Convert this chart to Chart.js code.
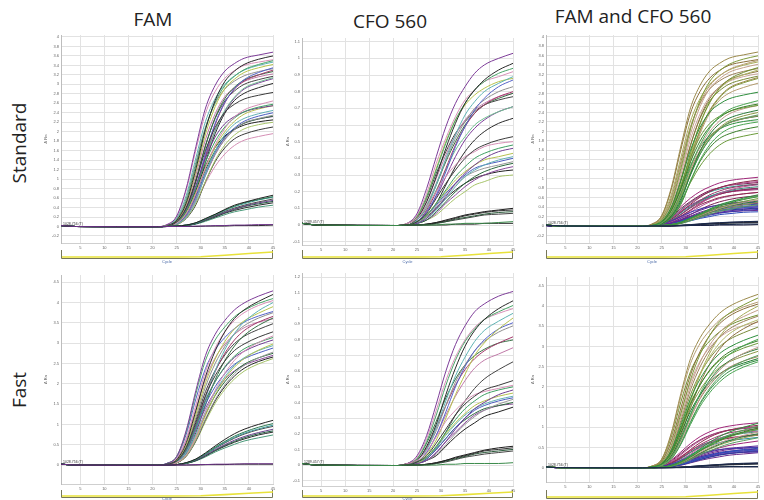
<!DOCTYPE html>
<html>
<head>
<meta charset="utf-8">
<script src="https://cdn.jsdelivr.net/npm/chart.js@4.4.1/dist/chart.umd.min.js"></script>
<style>
  html, body { margin: 0; padding: 0; background: #fff; }
  body { width: 764px; height: 500px; position: relative; overflow: hidden; font-family: "Open Sans", "Liberation Sans", sans-serif; color: #222; }
  .title { position: absolute; font-size: 19px; line-height: 19px; white-space: nowrap; transform: translateX(-50%); }
  .row { position: absolute; font-size: 19px; line-height: 19px; white-space: nowrap; transform: translate(-50%, -50%) rotate(-90deg); }
  canvas { position: absolute; }
</style>
</head>
<body>
<div class="title" style="left:153px; top:10px;">FAM</div>
<div class="title" style="left:390px; top:12px;">CFO 560</div>
<div class="title" style="left:633px; top:7px;">FAM and CFO 560</div>
<div class="row" style="left:19px; top:143px;">Standard</div>
<div class="row" style="left:19px; top:390px;">Fast</div>

<script>
// Cycles at which each amplification curve is sampled
const CYCLES = [1, 4, 21, 23, 25, 27, 29, 31, 33, 35, 37, 39, 42, 45];
// Baseline values at cycles 1, 4 and 21 (before amplification starts)
const FAM_BASE = [0.02, 0.0, -0.005];
const CFO_BASE = [0.01, 0.0, -0.003];
// Remaining values: cycles 23 .. 45

// ---- FAM, standard protocol ----
const FAM_STD_HIGH = [
  [0.04, 0.22, 0.81, 1.69, 2.50, 2.98, 3.28, 3.44, 3.55, 3.62, 3.68],
  [0.02, 0.13, 0.50, 1.22, 2.05, 2.66, 3.06, 3.28, 3.42, 3.53, 3.60],
  [0.02, 0.14, 0.55, 1.30, 2.08, 2.62, 2.97, 3.17, 3.31, 3.42, 3.50],
  [0.04, 0.21, 0.77, 1.62, 2.39, 2.85, 3.13, 3.29, 3.40, 3.47, 3.52],
  [0.03, 0.18, 0.66, 1.45, 2.22, 2.70, 3.00, 3.18, 3.30, 3.40, 3.47],
  [0.02, 0.12, 0.48, 1.16, 1.95, 2.53, 2.91, 3.11, 3.25, 3.35, 3.42],
  [0.01, 0.07, 0.30, 0.82, 1.55, 2.18, 2.62, 2.91, 3.10, 3.25, 3.35],
  [0.03, 0.16, 0.60, 1.36, 2.10, 2.60, 2.90, 3.07, 3.18, 3.27, 3.33],
  [0.01, 0.07, 0.26, 0.73, 1.49, 2.15, 2.61, 2.90, 3.07, 3.20, 3.30],
  [0.01, 0.09, 0.37, 0.95, 1.70, 2.30, 2.70, 2.94, 3.09, 3.20, 3.27],
  [0.02, 0.11, 0.45, 1.09, 1.84, 2.38, 2.74, 2.93, 3.06, 3.16, 3.22],
  [0.02, 0.10, 0.40, 1.00, 1.72, 2.28, 2.65, 2.86, 3.00, 3.10, 3.17],
  [0.01, 0.06, 0.27, 0.75, 1.43, 2.02, 2.45, 2.73, 2.92, 3.05, 3.14],
  [0.01, 0.08, 0.31, 0.81, 1.47, 2.03, 2.43, 2.71, 2.90, 3.03, 3.12],
  [0.01, 0.06, 0.24, 0.66, 1.36, 1.96, 2.39, 2.66, 2.81, 2.93, 3.02]
];
const FAM_STD_MID = [
  [0.01, 0.10, 0.40, 0.96, 1.61, 2.09, 2.41, 2.58, 2.69, 2.77, 2.83],
  [0.01, 0.07, 0.27, 0.69, 1.25, 1.72, 2.07, 2.31, 2.46, 2.57, 2.65],
  [0.01, 0.08, 0.33, 0.80, 1.36, 1.80, 2.10, 2.29, 2.42, 2.52, 2.58],
  [0.01, 0.09, 0.36, 0.87, 1.45, 1.89, 2.17, 2.32, 2.42, 2.50, 2.55],
  [0.01, 0.07, 0.29, 0.72, 1.24, 1.68, 2.00, 2.22, 2.37, 2.48, 2.55],
  [0.01, 0.05, 0.20, 0.54, 1.10, 1.59, 1.94, 2.16, 2.28, 2.38, 2.45],
  [0.01, 0.06, 0.25, 0.64, 1.14, 1.57, 1.88, 2.08, 2.22, 2.33, 2.40],
  [0.01, 0.06, 0.24, 0.61, 1.10, 1.53, 1.83, 2.04, 2.19, 2.28, 2.35],
  [0.01, 0.07, 0.28, 0.70, 1.20, 1.60, 1.88, 2.06, 2.18, 2.27, 2.33],
  [0.01, 0.05, 0.22, 0.58, 1.08, 1.52, 1.84, 2.05, 2.18, 2.27, 2.32],
  [0.01, 0.08, 0.32, 0.77, 1.28, 1.67, 1.91, 2.05, 2.14, 2.21, 2.25],
  [0.01, 0.04, 0.18, 0.49, 0.96, 1.40, 1.72, 1.93, 2.06, 2.15, 2.20],
  [0.01, 0.04, 0.17, 0.46, 0.95, 1.37, 1.66, 1.85, 1.95, 2.04, 2.10],
  [0.01, 0.05, 0.20, 0.51, 0.92, 1.27, 1.53, 1.71, 1.82, 1.90, 1.96]
];
const FAM_STD_LOW = [
  [0.00, 0.01, 0.03, 0.08, 0.17, 0.26, 0.36, 0.45, 0.51, 0.59, 0.66],
  [0.00, 0.01, 0.03, 0.08, 0.16, 0.25, 0.35, 0.43, 0.50, 0.57, 0.63],
  [0.00, 0.01, 0.03, 0.07, 0.16, 0.25, 0.34, 0.42, 0.48, 0.56, 0.62],
  [0.00, 0.01, 0.03, 0.07, 0.15, 0.23, 0.32, 0.39, 0.45, 0.52, 0.58],
  [0.00, 0.01, 0.03, 0.07, 0.14, 0.22, 0.30, 0.37, 0.43, 0.50, 0.55],
  [0.00, 0.01, 0.02, 0.06, 0.13, 0.21, 0.29, 0.36, 0.42, 0.48, 0.53],
  [0.00, 0.01, 0.02, 0.06, 0.13, 0.20, 0.28, 0.34, 0.39, 0.45, 0.50],
  [0.00, 0.00, 0.02, 0.05, 0.11, 0.18, 0.25, 0.31, 0.35, 0.41, 0.45]
];
const FAM_STD_FLAT = [
  [0.00, 0.00, 0.00, 0.01, 0.01, 0.02, 0.02, 0.03, 0.03, 0.04, 0.04],
  [0.00, 0.00, 0.00, 0.00, 0.01, 0.01, 0.01, 0.02, 0.02, 0.02, 0.03]
];

// ---- CFO 560, standard protocol ----
const CFO_STD_HIGH = [
  [0.01, 0.07, 0.22, 0.41, 0.59, 0.73, 0.83, 0.91, 0.96, 1.00, 1.03],
  [0.00, 0.04, 0.14, 0.29, 0.46, 0.61, 0.73, 0.81, 0.87, 0.93, 0.97],
  [0.01, 0.05, 0.17, 0.33, 0.49, 0.63, 0.73, 0.81, 0.86, 0.91, 0.94],
  [0.01, 0.06, 0.19, 0.37, 0.52, 0.65, 0.75, 0.81, 0.86, 0.89, 0.92],
  [0.00, 0.03, 0.11, 0.24, 0.40, 0.54, 0.66, 0.74, 0.80, 0.85, 0.89],
  [0.01, 0.05, 0.17, 0.34, 0.50, 0.63, 0.72, 0.78, 0.82, 0.86, 0.88],
  [0.00, 0.02, 0.08, 0.18, 0.32, 0.47, 0.59, 0.69, 0.76, 0.83, 0.87],
  [0.00, 0.03, 0.12, 0.25, 0.39, 0.52, 0.62, 0.70, 0.75, 0.80, 0.83],
  [0.00, 0.02, 0.09, 0.20, 0.34, 0.48, 0.59, 0.67, 0.72, 0.77, 0.80],
  [0.00, 0.03, 0.11, 0.24, 0.38, 0.50, 0.60, 0.67, 0.72, 0.76, 0.79],
  [0.01, 0.04, 0.14, 0.28, 0.42, 0.54, 0.63, 0.69, 0.73, 0.77, 0.79],
  [0.01, 0.05, 0.16, 0.31, 0.44, 0.55, 0.62, 0.68, 0.72, 0.75, 0.77],
  [0.00, 0.03, 0.10, 0.21, 0.33, 0.45, 0.53, 0.60, 0.64, 0.68, 0.71],
  [0.00, 0.02, 0.08, 0.17, 0.29, 0.41, 0.51, 0.58, 0.63, 0.68, 0.71],
  [0.00, 0.02, 0.06, 0.13, 0.24, 0.35, 0.44, 0.51, 0.56, 0.61, 0.64]
];
const CFO_STD_MID = [
  [0.00, 0.02, 0.07, 0.16, 0.25, 0.33, 0.40, 0.45, 0.48, 0.51, 0.53],
  [0.01, 0.04, 0.11, 0.20, 0.29, 0.36, 0.41, 0.44, 0.47, 0.49, 0.50],
  [0.00, 0.02, 0.06, 0.13, 0.21, 0.29, 0.35, 0.40, 0.43, 0.46, 0.48],
  [0.00, 0.01, 0.04, 0.10, 0.17, 0.25, 0.31, 0.36, 0.40, 0.44, 0.46],
  [0.00, 0.02, 0.06, 0.13, 0.20, 0.27, 0.32, 0.36, 0.39, 0.41, 0.43],
  [0.00, 0.01, 0.04, 0.09, 0.16, 0.23, 0.29, 0.33, 0.36, 0.39, 0.41],
  [0.00, 0.02, 0.06, 0.12, 0.19, 0.25, 0.30, 0.34, 0.36, 0.38, 0.40],
  [0.00, 0.01, 0.05, 0.11, 0.18, 0.24, 0.29, 0.32, 0.34, 0.36, 0.38],
  [0.00, 0.01, 0.03, 0.08, 0.14, 0.20, 0.25, 0.29, 0.32, 0.35, 0.37],
  [0.00, 0.01, 0.03, 0.07, 0.13, 0.18, 0.23, 0.27, 0.30, 0.33, 0.35],
  [0.00, 0.01, 0.05, 0.10, 0.16, 0.21, 0.25, 0.28, 0.30, 0.32, 0.33],
  [0.00, 0.01, 0.03, 0.06, 0.11, 0.16, 0.20, 0.24, 0.26, 0.29, 0.30]
];
const CFO_STD_LOW = [
  [0.00, 0.00, 0.005, 0.015, 0.03, 0.045, 0.06, 0.07, 0.08, 0.09, 0.10],
  [0.00, 0.00, 0.005, 0.015, 0.025, 0.04, 0.055, 0.065, 0.075, 0.085, 0.09],
  [0.00, 0.00, 0.005, 0.01, 0.02, 0.035, 0.045, 0.055, 0.065, 0.075, 0.08],
  [0.00, 0.00, 0.00, 0.01, 0.02, 0.03, 0.04, 0.05, 0.06, 0.065, 0.07]
];
const CFO_STD_FLAT = [
  [0.00, 0.00, 0.00, 0.00, 0.005, 0.005, 0.01, 0.01, 0.01, 0.015, 0.02],
  [0.00, 0.00, 0.00, 0.00, 0.00, 0.005, 0.005, 0.005, 0.01, 0.01, 0.01]
];

// ---- FAM, fast protocol ----
const FAM_FAST_HIGH = [
  [0.04, 0.21, 0.86, 1.84, 2.70, 3.22, 3.56, 3.82, 3.99, 4.16, 4.29],
  [0.02, 0.13, 0.55, 1.34, 2.18, 2.81, 3.28, 3.61, 3.82, 4.03, 4.20],
  [0.04, 0.21, 0.82, 1.76, 2.58, 3.08, 3.40, 3.65, 3.81, 3.98, 4.10],
  [0.03, 0.16, 0.66, 1.48, 2.30, 2.88, 3.28, 3.56, 3.75, 3.93, 4.05],
  [0.01, 0.08, 0.32, 0.88, 1.64, 2.32, 2.84, 3.24, 3.52, 3.80, 4.00],
  [0.02, 0.12, 0.51, 1.25, 2.03, 2.61, 3.04, 3.35, 3.55, 3.74, 3.90],
  [0.04, 0.19, 0.76, 1.63, 2.38, 2.84, 3.14, 3.36, 3.52, 3.67, 3.78],
  [0.02, 0.11, 0.47, 1.17, 1.93, 2.50, 2.92, 3.23, 3.43, 3.62, 3.75],
  [0.01, 0.09, 0.37, 0.97, 1.70, 2.30, 2.75, 3.08, 3.31, 3.52, 3.66],
  [0.01, 0.07, 0.29, 0.80, 1.48, 2.10, 2.57, 2.93, 3.19, 3.44, 3.62],
  [0.03, 0.15, 0.62, 1.38, 2.12, 2.64, 2.98, 3.22, 3.38, 3.52, 3.60],
  [0.02, 0.10, 0.45, 1.11, 1.81, 2.33, 2.71, 2.99, 3.17, 3.34, 3.48]
];
const FAM_FAST_MID = [
  [0.02, 0.10, 0.43, 1.05, 1.71, 2.20, 2.56, 2.82, 2.98, 3.15, 3.28],
  [0.01, 0.06, 0.25, 0.70, 1.30, 1.84, 2.26, 2.58, 2.80, 3.02, 3.18],
  [0.02, 0.09, 0.38, 0.95, 1.57, 2.05, 2.42, 2.68, 2.86, 3.02, 3.14],
  [0.02, 0.09, 0.40, 0.99, 1.60, 2.06, 2.40, 2.65, 2.80, 2.96, 3.08],
  [0.01, 0.06, 0.24, 0.66, 1.22, 1.73, 2.12, 2.41, 2.62, 2.83, 2.98],
  [0.01, 0.07, 0.29, 0.75, 1.32, 1.80, 2.17, 2.45, 2.64, 2.82, 2.94],
  [0.01, 0.09, 0.37, 0.92, 1.50, 1.93, 2.25, 2.48, 2.62, 2.76, 2.88],
  [0.01, 0.06, 0.22, 0.61, 1.14, 1.61, 1.97, 2.25, 2.45, 2.64, 2.78],
  [0.01, 0.06, 0.27, 0.70, 1.25, 1.71, 2.05, 2.30, 2.48, 2.64, 2.75],
  [0.01, 0.08, 0.35, 0.86, 1.40, 1.81, 2.11, 2.32, 2.46, 2.59, 2.70],
  [0.01, 0.05, 0.22, 0.60, 1.12, 1.58, 1.93, 2.19, 2.38, 2.55, 2.66],
  [0.01, 0.05, 0.21, 0.58, 1.07, 1.52, 1.86, 2.12, 2.31, 2.49, 2.62]
];
const FAM_FAST_LOW = [
  [0.00, 0.01, 0.06, 0.15, 0.30, 0.47, 0.63, 0.77, 0.88, 1.00, 1.10],
  [0.00, 0.01, 0.05, 0.14, 0.28, 0.44, 0.58, 0.71, 0.81, 0.93, 1.02],
  [0.00, 0.01, 0.05, 0.14, 0.27, 0.42, 0.56, 0.68, 0.78, 0.89, 0.98],
  [0.00, 0.01, 0.05, 0.13, 0.26, 0.41, 0.54, 0.66, 0.76, 0.87, 0.95],
  [0.00, 0.01, 0.05, 0.12, 0.24, 0.38, 0.50, 0.61, 0.70, 0.80, 0.88],
  [0.00, 0.01, 0.04, 0.11, 0.23, 0.36, 0.48, 0.58, 0.67, 0.77, 0.84],
  [0.00, 0.01, 0.04, 0.11, 0.22, 0.35, 0.46, 0.56, 0.64, 0.74, 0.81],
  [0.00, 0.01, 0.04, 0.10, 0.20, 0.32, 0.42, 0.51, 0.59, 0.67, 0.74]
];
const FAM_FAST_FLAT = [
  [0.00, 0.00, 0.00, 0.01, 0.01, 0.02, 0.02, 0.02, 0.03, 0.03, 0.03],
  [0.00, 0.00, 0.00, 0.00, 0.01, 0.01, 0.01, 0.02, 0.02, 0.02, 0.02]
];

// ---- CFO 560, fast protocol ----
const CFO_FAST_HIGH = [
  [0.01, 0.06, 0.19, 0.39, 0.60, 0.77, 0.89, 0.98, 1.03, 1.08, 1.11],
  [0.01, 0.03, 0.12, 0.26, 0.45, 0.62, 0.76, 0.86, 0.93, 1.00, 1.05],
  [0.01, 0.04, 0.15, 0.32, 0.51, 0.67, 0.79, 0.87, 0.93, 0.98, 1.02],
  [0.01, 0.05, 0.17, 0.35, 0.54, 0.69, 0.80, 0.88, 0.93, 0.97, 1.00],
  [0.00, 0.03, 0.10, 0.24, 0.41, 0.57, 0.69, 0.79, 0.86, 0.92, 0.97],
  [0.00, 0.02, 0.07, 0.16, 0.30, 0.45, 0.58, 0.70, 0.78, 0.87, 0.94],
  [0.00, 0.02, 0.08, 0.19, 0.34, 0.50, 0.63, 0.73, 0.80, 0.87, 0.91],
  [0.00, 0.03, 0.10, 0.22, 0.38, 0.53, 0.64, 0.73, 0.79, 0.85, 0.89],
  [0.01, 0.03, 0.11, 0.24, 0.38, 0.51, 0.61, 0.68, 0.73, 0.78, 0.82],
  [0.01, 0.04, 0.14, 0.28, 0.43, 0.55, 0.64, 0.70, 0.74, 0.78, 0.80],
  [0.00, 0.02, 0.08, 0.19, 0.32, 0.44, 0.54, 0.62, 0.67, 0.71, 0.75],
  [0.00, 0.01, 0.05, 0.11, 0.21, 0.32, 0.41, 0.49, 0.55, 0.61, 0.66]
];
const CFO_FAST_MID = [
  [0.00, 0.02, 0.06, 0.14, 0.23, 0.32, 0.39, 0.44, 0.48, 0.51, 0.54],
  [0.01, 0.03, 0.09, 0.18, 0.28, 0.35, 0.41, 0.45, 0.47, 0.49, 0.51],
  [0.00, 0.02, 0.05, 0.12, 0.21, 0.29, 0.36, 0.41, 0.45, 0.48, 0.50],
  [0.00, 0.01, 0.03, 0.08, 0.15, 0.23, 0.30, 0.36, 0.40, 0.45, 0.48],
  [0.00, 0.01, 0.05, 0.12, 0.20, 0.27, 0.33, 0.38, 0.41, 0.44, 0.46],
  [0.00, 0.01, 0.05, 0.11, 0.19, 0.26, 0.32, 0.36, 0.39, 0.42, 0.44],
  [0.00, 0.01, 0.04, 0.10, 0.17, 0.24, 0.30, 0.35, 0.38, 0.41, 0.43],
  [0.00, 0.01, 0.03, 0.07, 0.13, 0.20, 0.26, 0.31, 0.35, 0.39, 0.42],
  [0.00, 0.01, 0.04, 0.10, 0.17, 0.24, 0.29, 0.33, 0.36, 0.38, 0.40],
  [0.00, 0.01, 0.03, 0.08, 0.15, 0.21, 0.27, 0.32, 0.35, 0.38, 0.39],
  [0.00, 0.01, 0.03, 0.06, 0.12, 0.18, 0.23, 0.27, 0.31, 0.34, 0.37]
];
const CFO_FAST_LOW = [
  [0.00, 0.00, 0.005, 0.015, 0.03, 0.05, 0.065, 0.08, 0.095, 0.11, 0.12],
  [0.00, 0.00, 0.005, 0.015, 0.03, 0.045, 0.06, 0.075, 0.09, 0.10, 0.11],
  [0.00, 0.00, 0.005, 0.01, 0.025, 0.04, 0.055, 0.07, 0.08, 0.09, 0.10],
  [0.00, 0.00, 0.00, 0.01, 0.02, 0.035, 0.05, 0.06, 0.07, 0.08, 0.09]
];
const CFO_FAST_FLAT = [
  [0.00, 0.00, 0.00, 0.00, 0.005, 0.005, 0.01, 0.01, 0.01, 0.01, 0.015]
];

// Navigator strip under each plot: relative level per cycle
const NAV_CYCLES = [1, 25, 30, 35, 40, 45];
const NAV_LEVEL = [0, 0, 0.05, 0.35, 0.7, 1];

// Tick labels
const X_TICKS = [5, 10, 15, 20, 25, 30, 35, 40, 45];
const Y_TICKS_FAM_STD = [-0.2, 0, 0.2, 0.4, 0.6, 0.8, 1, 1.2, 1.4, 1.6, 1.8, 2, 2.2, 2.4, 2.6, 2.8, 3, 3.2, 3.4, 3.6, 3.8, 4];
const Y_TICKS_CFO_STD = [-0.1, 0, 0.1, 0.2, 0.3, 0.4, 0.5, 0.6, 0.7, 0.8, 0.9, 1, 1.1];
const Y_TICKS_FAM_FAST = [0, 0.5, 1, 1.5, 2, 2.5, 3, 3.5, 4, 4.5];
const Y_TICKS_CFO_FAST = [-0.1, 0, 0.1, 0.2, 0.3, 0.4, 0.5, 0.6, 0.7, 0.8, 0.9, 1, 1.1, 1.2];

// Line colours
const MIX = ['#7d3c98', '#2a2a2a', '#4aa468', '#d890b8', '#5fb3b3', '#b8c44e', '#5563c9', '#8f8f8f', '#a33a6b', '#356f43', '#c07aa8', '#444444', '#6fbf8f'];
const MIX_B = ['#3a3a3a', '#d58fb5', '#3f9f63', '#6f3d90', '#b6c150', '#62b0b5', '#4b5cc0', '#999999', '#2b6a3c', '#8a4a9a', '#222222', '#a7c46a'];
const LOW_COL = ['#222222', '#2e7a52', '#3d9a9a', '#4a4a4a', '#6b3f8c', '#1f5f3f', '#2a2a2a', '#4a9a7a'];
const FLAT_COL = ['#6a2f86', '#2c2c2c'];
const CFO_LOW_COL = ['#1e1e1e', '#333333', '#2a5a3a', '#444444'];
const CFO_FLAT_COL = ['#3a8a4a', '#2a2a2a'];
const DUO_FAM_HIGH = ['#9b8a4c', '#7d9a3a', '#b49c70', '#8a6e3a', '#a7ad5a', '#c3a08a', '#6f8f2f', '#9a7f5a', '#b0b86a', '#8c7040', '#c9a59a', '#7a8a3a'];
const DUO_FAM_MID = ['#2f8f3f', '#4aa552', '#3a7f2a', '#6a9a3a', '#c29a8c', '#2a7a3a', '#8a9a4a', '#5aa060', '#a08060', '#1f7a2f'];
const DUO_CFO_HIGH = ['#a0287a', '#8a2a4a', '#b04a90', '#7a2050', '#9a3a6a', '#2a9a8a', '#c05a9a', '#3a8a7a', '#8a2a5a', '#b03a7a', '#2a8a9a'];
const DUO_CFO_MID = ['#5a2a9a', '#3a3ab0', '#6a2a8a', '#2a4ab8', '#4a2a9a', '#3a5ac0', '#5a3aa8', '#2a3a9a'];
const DUO_LOW = ['#1a2a4a', '#222244', '#2a2a2a', '#1e3040'];

function g(curves, colors, base) { return { curves, colors, base }; }

const PANELS = [
  { L: 61, T: 35, R: 273, B: 243, yMin: -0.348, yMax: 4.042, yTicks: Y_TICKS_FAM_STD, titleGap: 15,
    thr: '1028.756 (T)', nav: [250, 258], cycleY: 262, bottom: 268,
    groups: [g(FAM_STD_FLAT, FLAT_COL, FAM_BASE), g(FAM_STD_LOW, LOW_COL, FAM_BASE),
             g(FAM_STD_MID, MIX_B, FAM_BASE), g(FAM_STD_HIGH, MIX, FAM_BASE)] },
  { L: 302, T: 38, R: 513, B: 245, yMin: -0.12, yMax: 1.122, yTicks: Y_TICKS_CFO_STD, titleGap: 14,
    thr: '1289.457 (T)', nav: [250, 258], cycleY: 262, bottom: 268,
    groups: [g(CFO_STD_FLAT, CFO_FLAT_COL, CFO_BASE), g(CFO_STD_LOW, CFO_LOW_COL, CFO_BASE),
             g(CFO_STD_MID, MIX_B, CFO_BASE), g(CFO_STD_HIGH, MIX, CFO_BASE)] },
  { L: 546, T: 35, R: 758, B: 243, yMin: -0.36, yMax: 4.04, yTicks: Y_TICKS_FAM_STD, titleGap: 13,
    thr: '1028.756 (T)', nav: [250, 258], cycleY: 262, bottom: 268,
    groups: [g(FAM_STD_FLAT, DUO_LOW, FAM_BASE), g(FAM_STD_LOW, DUO_FAM_MID, FAM_BASE),
             g(FAM_STD_MID, DUO_FAM_MID, FAM_BASE), g(FAM_STD_HIGH, DUO_FAM_HIGH, FAM_BASE),
             g(CFO_STD_LOW, DUO_LOW, CFO_BASE), g(CFO_STD_MID, DUO_CFO_MID, CFO_BASE),
             g(CFO_STD_HIGH, DUO_CFO_HIGH, CFO_BASE)] },
  { L: 61, T: 275, R: 273, B: 484, yMin: -0.468, yMax: 4.68, yTicks: Y_TICKS_FAM_FAST, titleGap: 15,
    thr: '1028.756 (T)', nav: [490, 497], cycleY: 499, bottom: 500,
    groups: [g(FAM_FAST_FLAT, FLAT_COL, FAM_BASE), g(FAM_FAST_LOW, LOW_COL, FAM_BASE),
             g(FAM_FAST_MID, MIX_B, FAM_BASE), g(FAM_FAST_HIGH, MIX, FAM_BASE)] },
  { L: 302, T: 273, R: 513, B: 486, yMin: -0.134, yMax: 1.228, yTicks: Y_TICKS_CFO_FAST, titleGap: 14,
    thr: '1289.457 (T)', nav: [490, 497], cycleY: 499, bottom: 500,
    groups: [g(CFO_FAST_FLAT, CFO_FLAT_COL, CFO_BASE), g(CFO_FAST_LOW, CFO_LOW_COL, CFO_BASE),
             g(CFO_FAST_MID, MIX_B, CFO_BASE), g(CFO_FAST_HIGH, MIX, CFO_BASE)] },
  { L: 546, T: 277, R: 758, B: 482, yMin: -0.354, yMax: 4.72, yTicks: Y_TICKS_FAM_FAST, titleGap: 13,
    thr: '1028.756 (T)', nav: [490, 498], cycleY: 503, bottom: 500,
    groups: [g(FAM_FAST_FLAT, DUO_LOW, FAM_BASE), g(FAM_FAST_LOW, DUO_FAM_MID, FAM_BASE),
             g(FAM_FAST_MID, DUO_FAM_MID, FAM_BASE), g(FAM_FAST_HIGH, DUO_FAM_HIGH, FAM_BASE),
             g(CFO_FAST_LOW, DUO_LOW, CFO_BASE), g(CFO_FAST_MID, DUO_CFO_MID, CFO_BASE),
             g(CFO_FAST_HIGH, DUO_CFO_HIGH, CFO_BASE)] }
];

const SMALL = { family: '"Liberation Sans", Arial, sans-serif', size: 4 };

function buildPanel(p) {
  const cl = p.L - 27, ct = p.T - 6;
  const cw = p.R - p.L + 32, ch = p.bottom - ct;
  const canvas = document.createElement('canvas');
  canvas.width = cw; canvas.height = ch;
  canvas.style.left = cl + 'px'; canvas.style.top = ct + 'px';
  canvas.style.width = cw + 'px'; canvas.style.height = ch + 'px';
  document.body.appendChild(canvas);

  const datasets = [];
  p.groups.forEach(grp => {
    grp.curves.forEach((vals, i) => {
      const ys = grp.base.concat(vals);
      datasets.push({
        data: CYCLES.map((c, k) => ({ x: c, y: ys[k] })),
        borderColor: grp.colors[i % grp.colors.length],
        borderWidth: 1,
        pointRadius: 0,
        fill: false,
        cubicInterpolationMode: 'monotone'
      });
    });
  });

  const decor = {
    id: 'decor',
    afterDraw(chart) {
      const { ctx, chartArea: a, scales: { x, y } } = chart;
      ctx.save();
      // axis title
      ctx.save();
      ctx.translate(a.left - p.titleGap, (a.top + a.bottom) / 2);
      ctx.rotate(-Math.PI / 2);
      ctx.font = '4px "Liberation Sans", Arial, sans-serif';
      ctx.fillStyle = '#555';
      ctx.textAlign = 'center';
      ctx.textBaseline = 'middle';
      ctx.fillText('\u0394 Rn', 0, 0);
      ctx.restore();
      // threshold label
      ctx.font = '3.5px "Liberation Sans", Arial, sans-serif';
      ctx.fillStyle = '#333';
      ctx.textAlign = 'left';
      ctx.textBaseline = 'bottom';
      ctx.fillText(p.thr, a.left + 2, y.getPixelForValue(0) - 1);
      // navigator bracket
      const nt = p.nav[0] - ct, nb = p.nav[1] - ct;
      ctx.strokeStyle = '#77775a';
      ctx.lineWidth = 1;
      ctx.beginPath();
      ctx.moveTo(a.left + 0.5, nt);
      ctx.lineTo(a.left + 0.5, nb + 0.5);
      ctx.lineTo(a.right - 0.5, nb + 0.5);
      ctx.lineTo(a.right - 0.5, nt);
      ctx.stroke();
      ctx.strokeStyle = '#e8e23a';
      ctx.lineWidth = 1.6;
      ctx.beginPath();
      NAV_CYCLES.forEach((c, i) => {
        const px = x.getPixelForValue(c);
        const py = nb - 1 - NAV_LEVEL[i] * (nb - nt - 3);
        if (i === 0) ctx.moveTo(px + 1, py); else ctx.lineTo(px, py);
      });
      ctx.stroke();
      // x axis title
      ctx.font = '4px "Liberation Sans", Arial, sans-serif';
      ctx.fillStyle = '#4a6aa8';
      ctx.textAlign = 'center';
      ctx.textBaseline = 'middle';
      ctx.fillText('Cycle', (a.left + a.right) / 2, p.cycleY - ct);
      ctx.restore();
    }
  };

  new Chart(canvas, {
    type: 'line',
    data: { datasets },
    options: {
      responsive: false,
      animation: false,
      devicePixelRatio: 1,
      layout: { padding: { top: 6, right: 5, left: 0, bottom: 0 } },
      plugins: { legend: { display: false }, tooltip: { enabled: false } },
      scales: {
        x: {
          type: 'linear', min: 1, max: 45,
          afterBuildTicks: s => { s.ticks = X_TICKS.map(v => ({ value: v })); },
          afterFit: s => { s.height = ch - 6 - (p.B - p.T); },
          grid: { color: '#e2e2e2', lineWidth: 1, drawTicks: false },
          border: { color: '#cfcfcf' },
          ticks: { font: SMALL, color: '#666', padding: 2, maxRotation: 0, autoSkip: false, callback: v => String(v) }
        },
        y: {
          type: 'linear', min: p.yMin, max: p.yMax,
          afterBuildTicks: s => { s.ticks = p.yTicks.map(v => ({ value: v })); },
          afterFit: s => { s.width = 27; },
          grid: { color: '#e2e2e2', lineWidth: 1, drawTicks: false },
          border: { color: '#bdbdbd' },
          ticks: { font: SMALL, color: '#666', padding: 2, autoSkip: false, callback: v => String(v) }
        }
      }
    },
    plugins: [decor]
  });
}

PANELS.forEach(buildPanel);
</script>
</body>
</html>
